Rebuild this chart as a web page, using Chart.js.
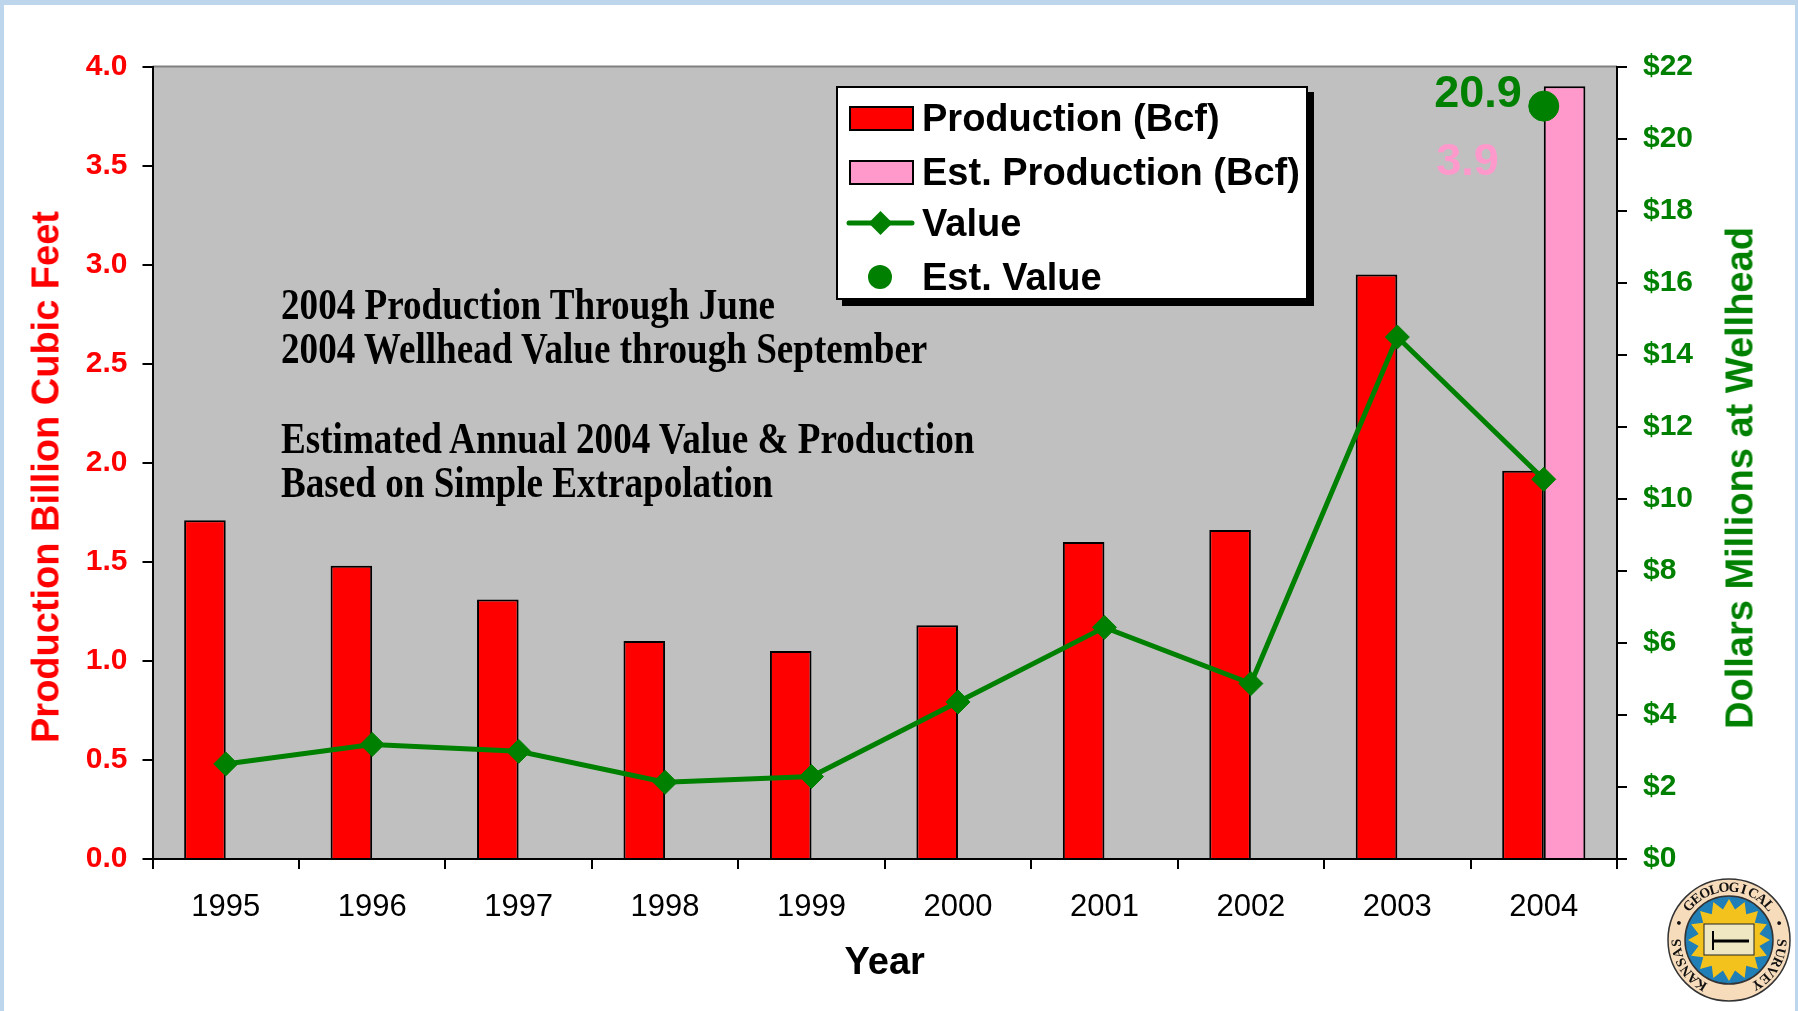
<!DOCTYPE html>
<html>
<head>
<meta charset="utf-8">
<script src="https://cdn.jsdelivr.net/npm/chart.js@4.4.0/dist/chart.umd.min.js"></script>
<style>
  html, body { margin: 0; padding: 0; }
  body { width: 1798px; height: 1011px; background: #bdd6ec; position: relative; overflow: hidden;
         font-family: "Liberation Sans", Arial, sans-serif; }
  #folha { position: absolute; left: 4px; top: 5px; width: 1791px; height: 1006px; background: #fff; }
  #grafico { position: absolute; left: 0; top: 0; }
  .nota { position: absolute; left: 281px; font-family: "Liberation Serif", "Times New Roman", serif;
          font-weight: bold; font-size: 45px; line-height: 44px; color: #000; white-space: nowrap;
          transform: scaleX(0.825); transform-origin: left center; }
  .tituloEixo { position: absolute; transform: translate(-50%, -50%) rotate(-90deg);
                font-weight: bold; font-size: 38px; white-space: nowrap; }
  #tituloEsq { left: 46px; top: 477px; color: #ff0000; }
  #tituloDir { left: 1740px; top: 478px; color: #008000; }
  #legenda { position: absolute; left: 836px; top: 86px; width: 468px; height: 210px; background: #fff;
             border: 2px solid #000; box-shadow: 6px 6px 0 #000; }
  .item { position: absolute; left: 0; height: 50px; width: 100%; }
  .item canvas { position: absolute; left: 8px; top: 0; }
  .item span { position: absolute; left: 84px; top: 0; line-height: 50px; font-weight: bold; font-size: 38px; color: #000; white-space: nowrap; }
  #selo { position: absolute; left: 1664px; top: 875px; }
</style>
</head>
<body>
<div id="folha"></div>
<canvas id="grafico" width="1798" height="1011"></canvas>
<div class="nota" style="top:282px">2004 Production Through June</div>
<div class="nota" style="top:326px">2004 Wellhead Value through September</div>
<div class="nota" style="top:416px">Estimated Annual 2004 Value &amp; Production</div>
<div class="nota" style="top:460px">Based on Simple Extrapolation</div>
<div class="tituloEixo" id="tituloEsq">Production Billion Cubic Feet</div>
<div class="tituloEixo" id="tituloDir">Dollars Millions at Wellhead</div>
<div id="legenda"></div>
<canvas id="selo" width="130" height="130"></canvas>
<script>
// dados
const anos = ['1995', '1996', '1997', '1998', '1999', '2000', '2001', '2002', '2003', '2004'];
const producao = [1.71, 1.48, 1.31, 1.10, 1.05, 1.18, 1.60, 1.66, 2.95, 1.96];
const producaoEst = [null, null, null, null, null, null, null, null, null, 3.9];
const valor = [2.64, 3.18, 2.99, 2.13, 2.29, 4.36, 6.43, 4.87, 14.49, 10.54];
const valorEst = [null, null, null, null, null, null, null, null, null, 20.9];

const VERDE = '#008000';
const VERMELHO = '#ff0000';
const ROSA = '#ff99cc';

// fundo cinza da área do gráfico
const fundoPlot = {
  id: 'fundoPlot',
  beforeDraw(chart) {
    const { ctx, chartArea: a } = chart;
    ctx.save();
    ctx.fillStyle = '#c0c0c0';
    ctx.fillRect(a.left, a.top, a.right - a.left, a.bottom - a.top);
    ctx.strokeStyle = '#808080';
    ctx.lineWidth = 2;
    ctx.beginPath();
    ctx.moveTo(a.left, a.top);
    ctx.lineTo(a.right, a.top);
    ctx.stroke();
    ctx.restore();
  }
};

// rótulos 20.9 e 3.9
const rotulos = {
  id: 'rotulos',
  afterDatasetsDraw(chart) {
    const ctx = chart.ctx;
    const ponto = chart.getDatasetMeta(3).data[9];
    const barra = chart.getDatasetMeta(1).data[9];
    ctx.save();
    ctx.font = 'bold 45px "Liberation Sans", Arial, sans-serif';
    ctx.textBaseline = 'middle';
    ctx.fillStyle = VERDE;
    ctx.textAlign = 'right';
    ctx.fillText(valorEst[9].toFixed(1), ponto.x - 22, ponto.y - 12);
    ctx.fillStyle = ROSA;
    ctx.textAlign = 'center';
    ctx.fillText(producaoEst[9].toFixed(1), barra.x - 97, barra.y + 76);
    ctx.restore();
  }
};

const grafico = new Chart(document.getElementById('grafico'), {
  type: 'bar',
  data: {
    labels: anos,
    datasets: [
      { label: 'Production (Bcf)', data: producao, backgroundColor: VERMELHO, borderColor: '#000',
        borderWidth: 2, yAxisID: 'y', order: 2, categoryPercentage: 0.568, barPercentage: 1 },
      { label: 'Est. Production (Bcf)', data: producaoEst, backgroundColor: ROSA, borderColor: '#000',
        borderWidth: 2, yAxisID: 'y', order: 2, categoryPercentage: 0.568, barPercentage: 1 },
      { type: 'line', label: 'Value', data: valor, borderColor: VERDE, backgroundColor: VERDE,
        borderWidth: 5, pointStyle: 'rectRot', pointRadius: 12, pointBorderWidth: 1,
        pointBackgroundColor: VERDE, pointBorderColor: VERDE, yAxisID: 'y1', order: 1 },
      { type: 'line', label: 'Est. Value', data: valorEst, showLine: false, pointStyle: 'circle',
        pointRadius: 15, pointBackgroundColor: VERDE, pointBorderColor: VERDE, backgroundColor: VERDE,
        borderColor: VERDE, yAxisID: 'y1', order: 0 }
    ]
  },
  options: {
    responsive: false,
    animation: false,
    layout: { padding: { top: 66.5, left: 0, right: 0, bottom: 0 } },
    plugins: { legend: { display: false }, tooltip: { enabled: false } },
    scales: {
      x: {
        afterFit: s => { s.height = 152; },
        grid: { drawOnChartArea: false, color: '#000', lineWidth: 2, tickLength: 10, offset: true },
        border: { color: '#000', width: 2 },
        ticks: { color: '#000', font: { size: 31, family: '"Liberation Sans", Arial' }, padding: 20, maxRotation: 0 },
        title: { display: true, text: 'Year', color: '#000', padding: { top: 25, bottom: 25 },
                 font: { size: 38, weight: 'bold', family: '"Liberation Sans", Arial' } }
      },
      y: {
        position: 'left', min: 0, max: 4,
        afterFit: s => { s.width = 152.5; },
        grid: { drawOnChartArea: false, color: '#000', lineWidth: 2, tickLength: 10 },
        border: { color: '#000', width: 2 },
        ticks: { stepSize: 0.5, color: VERMELHO, padding: 15, callback: v => v.toFixed(1),
                 font: { size: 30, weight: 'bold', family: '"Liberation Sans", Arial' } }
      },
      y1: {
        position: 'right', min: 0, max: 22,
        afterFit: s => { s.width = 181; },
        grid: { drawOnChartArea: false, color: '#000', lineWidth: 2, tickLength: 10 },
        border: { color: '#000', width: 2 },
        ticks: { stepSize: 2, color: VERDE, padding: 16, callback: v => '$' + v,
                 font: { size: 30, weight: 'bold', family: '"Liberation Sans", Arial' } }
      }
    }
  },
  plugins: [fundoPlot, rotulos]
});

// legenda em HTML, montada a partir dos datasets
const legenda = document.getElementById('legenda');
const centrosY = [30, 84, 135, 189];
grafico.data.datasets.forEach((ds, i) => {
  const item = document.createElement('div');
  item.className = 'item';
  item.style.top = (centrosY[i] - 25) + 'px';
  const c = document.createElement('canvas');
  c.width = 72; c.height = 50;
  const g = c.getContext('2d');
  g.fillStyle = ds.backgroundColor;
  g.strokeStyle = '#000';
  if (i < 2) {
    g.lineWidth = 2;
    g.fillRect(4, 14, 63, 23);
    g.strokeRect(4, 14, 63, 23);
  } else if (i === 2) {
    g.strokeStyle = VERDE;
    g.lineWidth = 5;
    g.lineCap = 'round';
    g.beginPath(); g.moveTo(3, 25); g.lineTo(66, 25); g.stroke();
    g.beginPath(); g.moveTo(34.5 - 12, 25); g.lineTo(34.5, 13); g.lineTo(34.5 + 12, 25); g.lineTo(34.5, 37);
    g.closePath(); g.fill();
  } else {
    g.beginPath(); g.arc(34, 25, 12, 0, Math.PI * 2); g.fill();
  }
  item.appendChild(c);
  const t = document.createElement('span');
  t.textContent = ds.label;
  item.appendChild(t);
  legenda.appendChild(item);
});

// selo do Kansas Geological Survey
(function () {
  const g = document.getElementById('selo').getContext('2d');
  const cx = 65, cy = 65;
  g.fillStyle = '#f7dcbc'; g.strokeStyle = '#333'; g.lineWidth = 1.5;
  g.beginPath(); g.arc(cx, cy, 61, 0, Math.PI * 2); g.fill(); g.stroke();
  g.fillStyle = '#1f7fb6';
  g.beginPath(); g.arc(cx, cy, 44, 0, Math.PI * 2); g.fill(); g.stroke();
  g.fillStyle = '#f4c21c';
  g.beginPath();
  for (let k = 0; k < 32; k++) {
    const r = k % 2 === 0 ? 41 : 31;
    const a = k * Math.PI / 16;
    const px = cx + r * Math.cos(a), py = cy + r * Math.sin(a);
    if (k === 0) g.moveTo(px, py); else g.lineTo(px, py);
  }
  g.closePath(); g.fill();
  g.fillStyle = '#efe6c2'; g.strokeStyle = '#222'; g.lineWidth = 1;
  g.fillRect(cx - 25, cy - 16, 50, 31); g.strokeRect(cx - 25, cy - 16, 50, 31);
  g.strokeStyle = '#000'; g.lineWidth = 3;
  g.beginPath(); g.moveTo(cx - 16, cy + 1); g.lineTo(cx + 20, cy + 1); g.stroke();
  g.lineWidth = 2;
  g.beginPath(); g.moveTo(cx - 16, cy - 9); g.lineTo(cx - 16, cy + 10); g.stroke();
  const texto = 'KANSAS \u2022 GEOLOGICAL \u2022 SURVEY';
  g.fillStyle = '#111';
  g.font = 'bold 14px "Liberation Serif", serif';
  g.textAlign = 'center'; g.textBaseline = 'middle';
  const ini = 122 * Math.PI / 180, fim = 418 * Math.PI / 180;
  for (let k = 0; k < texto.length; k++) {
    const a = ini + (fim - ini) * k / (texto.length - 1);
    g.save();
    g.translate(cx + 52 * Math.cos(a), cy + 52 * Math.sin(a));
    g.rotate(a + Math.PI / 2);
    g.fillText(texto[k], 0, 0);
    g.restore();
  }
})();
</script>
</body>
</html>
